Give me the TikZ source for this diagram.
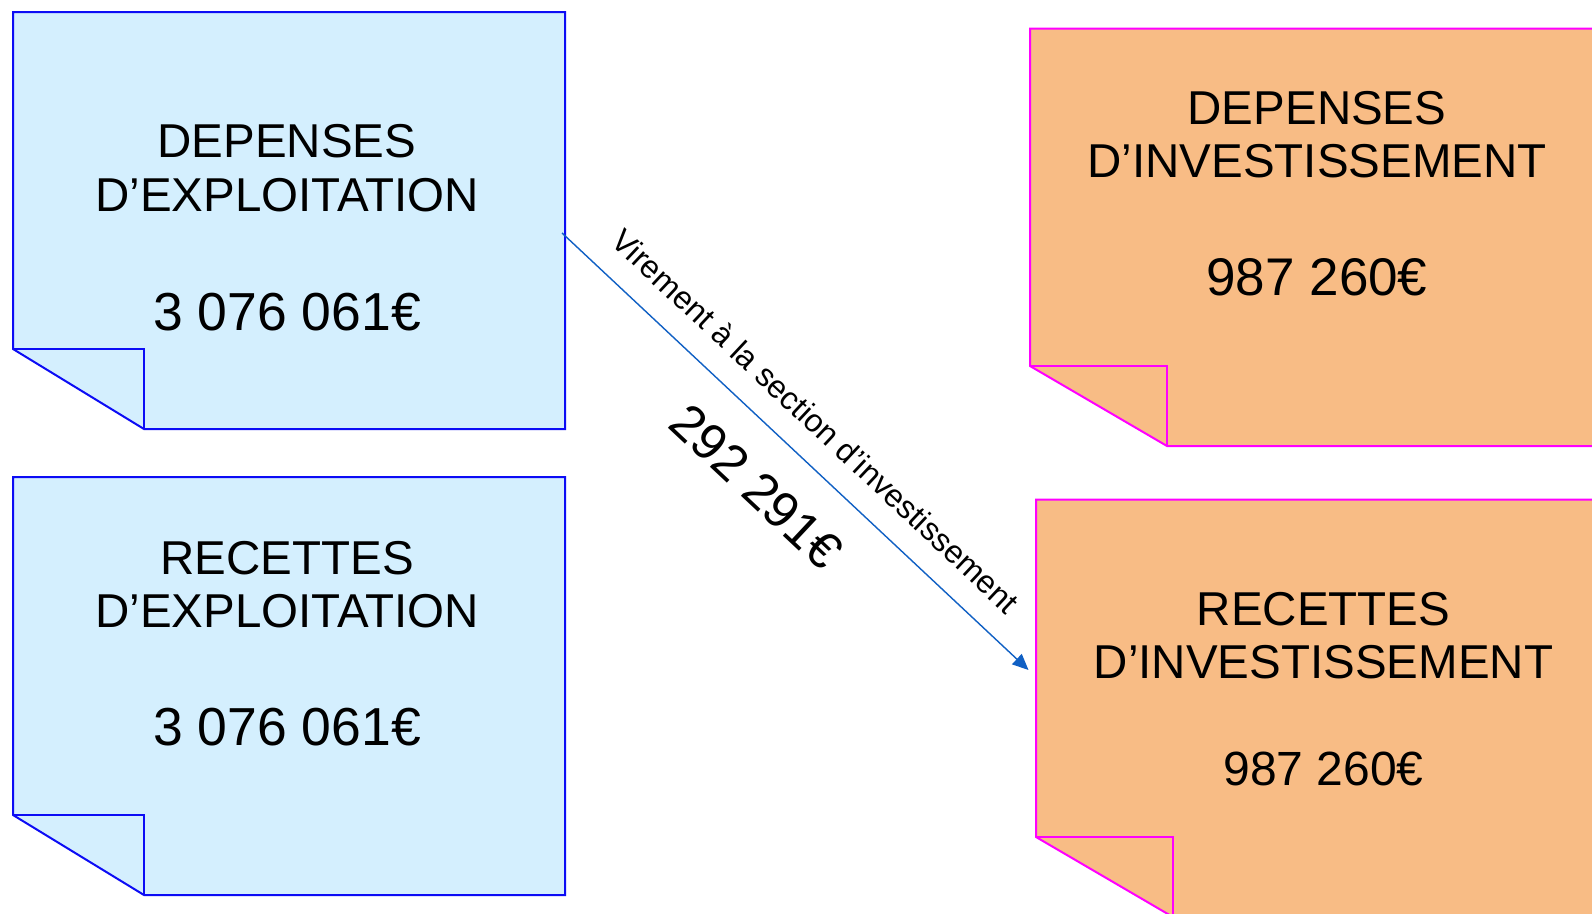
\documentclass[tikz,border=0pt]{standalone}
\usepackage{fontspec}
\setmainfont{Liberation Sans}
\usetikzlibrary{arrows.meta}
\definecolor{bluefill}{RGB}{212,239,254}
\definecolor{blueline}{RGB}{12,12,245}
\definecolor{orangefill}{RGB}{248,188,133}
\definecolor{magline}{RGB}{255,0,255}
\definecolor{arrowcol}{RGB}{16,96,196}
\tikzset{
  bluenote/.style={draw=blueline, fill=bluefill, line width=2pt, line join=miter},
  bluefold/.style={draw=blueline, line width=2pt, line join=miter},
  orangenote/.style={draw=magline, fill=orangefill, line width=2pt, line join=miter},
  orangefold/.style={draw=magline, line width=2pt, line join=miter},
  titletxt/.style={anchor=base, inner sep=0pt, font=\fontsize{47.5}{47.5}\selectfont},
  amttxt/.style={anchor=base, inner sep=0pt, font=\fontsize{#1}{#1}\selectfont},
  flow/.style={draw=arrowcol, line width=1.4pt, -{Triangle[length=16pt,width=14pt]}},
}
\begin{document}
\begin{tikzpicture}[x=1pt,y=-1pt]
\useasboundingbox (0,0) rectangle (1592,913);
\clip (0,0) rectangle (1592,913);
\fill[white] (0,0) rectangle (1592,913);

% Blue note 1
\path[bluenote] (13,12) -- (565,12) -- (565,429) -- (144,429) -- (13,349) -- cycle;
\path[bluefold] (13,349) -- (144,349) -- (144,429);
\node[titletxt] (d1a) at (287,157) {DEPENSES};
\node[titletxt] (d1b) at (287,211) {D’EXPLOITATION};
\node[amttxt=53.5] (d1c) at (287,330) {3 076 061€};

% Blue note 2
\path[bluenote] (13,477) -- (565,477) -- (565,895) -- (144,895) -- (13,815) -- cycle;
\path[bluefold] (13,815) -- (144,815) -- (144,895);
\node[titletxt] (r1a) at (287,574) {RECETTES};
\node[titletxt] (r1b) at (287,627) {D’EXPLOITATION};
\node[amttxt=53.5] (r1c) at (287,745) {3 076 061€};

% Orange note 1
\path[orangenote] (1030,28.5) -- (1610,28.5) -- (1610,446) -- (1167,446) -- (1030,366) -- cycle;
\path[orangefold] (1030,366) -- (1167,366) -- (1167,446);
\node[titletxt] (d2a) at (1317,124) {DEPENSES};
\node[titletxt] (d2b) at (1317,177) {D’INVESTISSEMENT};
\node[amttxt=53] (d2c) at (1317,295) {987 260€};

% Orange note 2
\path[orangenote] (1036,499.5) -- (1610,499.5) -- (1610,917) -- (1173,917) -- (1036,837) -- cycle;
\path[orangefold] (1036,837) -- (1173,837) -- (1173,917);
\node[titletxt] (r2a) at (1323.5,625) {RECETTES};
\node[titletxt] (r2b) at (1323.5,678) {D’INVESTISSEMENT};
\node[amttxt=48] (r2c) at (1323.5,785) {987 260€};

% Arrow
\coordinate (arrS) at (562,233);
\coordinate (arrE) at (1028.5,670);
\draw[flow] (arrS) -- (arrE);
\node[inner sep=0pt, rotate=-43.15, font=\fontsize{32}{32}\selectfont] (vlab) at (816,421) {Virement à la section d’investissement};
\node[inner sep=0pt, rotate=-43.15, font=\fontsize{51}{51}\selectfont] (vamt) at (756.5,486.5) {292 291€};
\end{tikzpicture}
\end{document}
